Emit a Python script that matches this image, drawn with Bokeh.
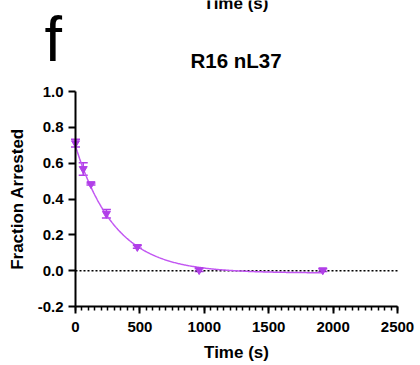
import numpy as np
from bokeh.plotting import figure
from bokeh.models import (ColumnDataSource, FixedTicker, Whisker, TeeHead,
                          Range1d, PrintfTickFormatter)
from bokeh.core.properties import value
from bokeh.embed import file_html
from bokeh.resources import INLINE

# ---- data ----
time_s = [0, 60, 120, 240, 480, 960, 1920]
fraction = [0.712, 0.568, 0.484, 0.318, 0.133, 0.004, 0.003]
sem = [0.022, 0.035, 0.006, 0.024, 0.008, 0.008, 0.008]

# one-phase decay fit parameters
fit_y0 = 0.695
fit_plateau = -0.013
fit_k = 0.00325
fit_t_end = 1920

x_ticks = [0, 500, 1000, 1500, 2000, 2500]
x_minor = list(range(0, 2501, 50))
y_ticks = [-0.2, 0.0, 0.2, 0.4, 0.6, 0.8, 1.0]

title_text = "R16 nL37"
panel_letter = "f"
x_label = "Time (s)"
y_label = "Fraction Arrested"

PURPLE = "#B13FE8"
LINE_PURPLE = "#C257F2"
FONT = "Liberation Sans"

# ---- layout (pixels) ----
W, H = 420, 365
AX_LEFT, AX_RIGHT = 75, 397      # pixel x of t=0 and t=2500
AX_TOP, AX_BOTTOM = 91, 306      # pixel y of 1.0 and -0.2
sx = (AX_RIGHT - AX_LEFT) / (x_ticks[-1] - x_ticks[0])
sy = (AX_BOTTOM - AX_TOP) / (y_ticks[-1] - y_ticks[0])
x_start = x_ticks[0] - AX_LEFT / sx
x_end = x_ticks[-1] + (W - AX_RIGHT) / sx
y_top = y_ticks[-1] + AX_TOP / sy
y_bottom = y_ticks[0] - (H - AX_BOTTOM) / sy


def px_x(px):
    return x_start + px / sx


def px_y(py):
    return y_top - py / sy


p = figure(width=W, height=H, output_backend="svg", toolbar_location=None,
           x_range=Range1d(x_start, x_end),
           y_range=Range1d(y_bottom, y_top),
           min_border_left=0, min_border_right=0, min_border_top=0,
           min_border_bottom=0)
p.outline_line_color = None
p.grid.visible = False

xa = p.xaxis[0]
xa.ticker = FixedTicker(ticks=x_ticks, minor_ticks=x_minor)
xa.axis_label = x_label
xa.bounds = (x_ticks[0], x_ticks[-1])
xa.fixed_location = y_ticks[0]
ya = p.yaxis[0]
ya.ticker = FixedTicker(ticks=y_ticks, minor_ticks=[])
ya.formatter = PrintfTickFormatter(format="%.1f")
ya.axis_label = y_label
ya.fixed_location = x_ticks[0]
ya.bounds = (y_ticks[0], y_ticks[-1])
for ax in (xa, ya):
    ax.axis_line_width = 2
    ax.axis_line_color = "black"
    ax.major_tick_line_width = 2
    ax.major_tick_line_color = "black"
    ax.major_tick_in = 0
    ax.major_tick_out = 7
    ax.minor_tick_in = 0
    ax.minor_tick_out = 4
    ax.minor_tick_line_width = 1.5
    ax.minor_tick_line_color = "black"
    ax.major_label_text_font = FONT
    ax.major_label_text_font_size = "15px"
    ax.major_label_text_font_style = "bold"
    ax.major_label_text_color = "black"
    ax.axis_label_text_font = FONT
    ax.axis_label_text_font_size = "17px"
    ax.axis_label_text_font_style = "bold"
    ax.axis_label_text_color = "black"
xa.major_label_standoff = 8
xa.axis_label_standoff = 8
ya.major_label_standoff = 5
ya.axis_label_standoff = 8

# dotted zero line
p.line([x_ticks[0], x_ticks[-1]], [0, 0], line_color="black",
       line_dash="2 2", line_width=1.5)

# fitted curve
t_fit = np.linspace(0, fit_t_end, 300)
y_fit = (fit_y0 - fit_plateau) * np.exp(-fit_k * t_fit) + fit_plateau
p.line(t_fit, y_fit, line_color=LINE_PURPLE, line_width=1.5)

# data + error bars
src = ColumnDataSource(dict(
    t=time_s, y=fraction,
    lo=[v - e for v, e in zip(fraction, sem)],
    hi=[v + e for v, e in zip(fraction, sem)]))
p.add_layout(Whisker(source=src, base="t", lower="lo", upper="hi",
                     line_color=PURPLE, line_width=1.5,
                     upper_head=TeeHead(size=9, line_color=PURPLE, line_width=1.5),
                     lower_head=TeeHead(size=9, line_color=PURPLE, line_width=1.5)))
p.scatter("t", "y", source=src, marker="inverted_triangle", size=8,
          fill_color=PURPLE, line_color=PURPLE)

# panel letter, title and the cut-off label of the panel above
p.text(x=[px_x(44)], y=[px_y(38)], text=[panel_letter], text_font=value(FONT),
       text_font_size="63px", text_color="black",
       text_baseline="alphabetic", text_align="left")
p.text(x=[px_x(235.5)], y=[px_y(59.5)], text=[title_text], text_font=value(FONT),
       text_font_size="20.5px", text_font_style="bold", text_color="black",
       text_baseline="alphabetic", text_align="center")
p.text(x=[px_x(235.5)], y=[px_y(3.3)], text=[x_label], text_font=value(FONT),
       text_font_size="17px", text_font_style="bold", text_color="black",
       text_baseline="alphabetic", text_align="center")

open("out.html", "w").write(file_html(p, INLINE))
